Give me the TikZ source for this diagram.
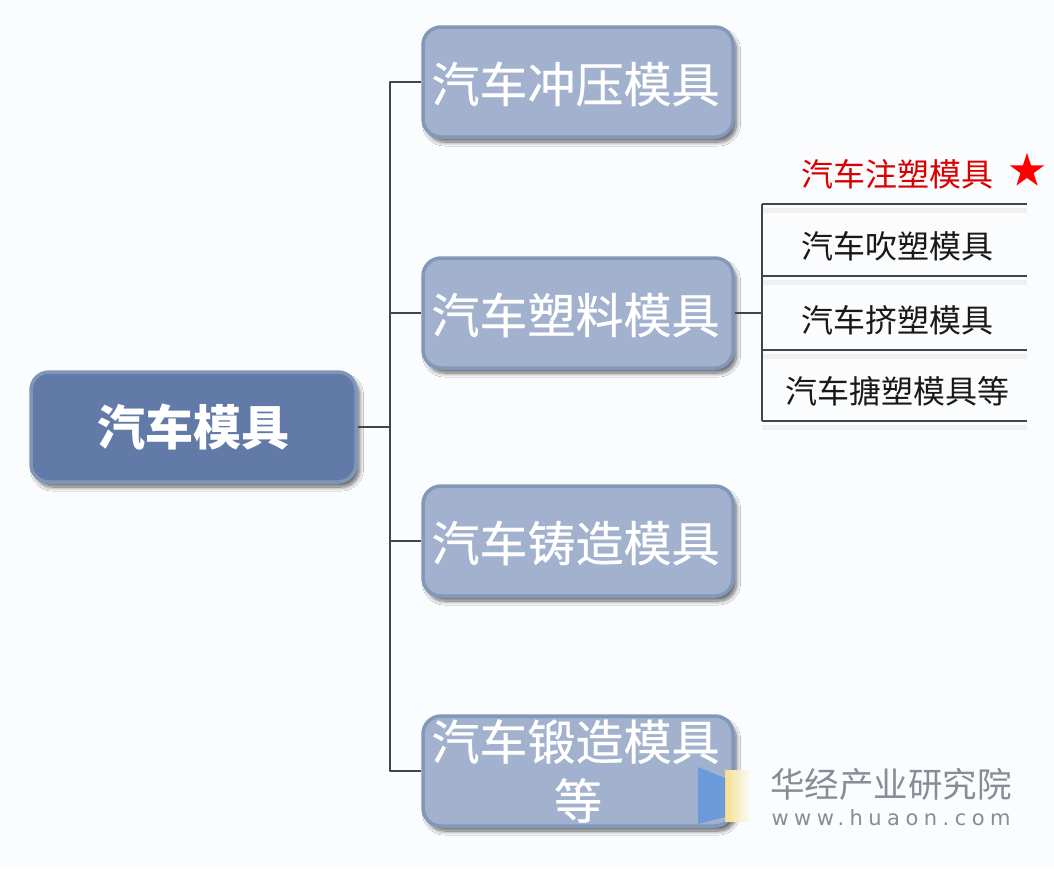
\documentclass[tikz,border=0pt]{standalone}
\usepackage{fontspec}
\setmainfont{Noto Sans CJK SC}
\newfontfamily\wmfont[LetterSpace=26]{DejaVu Sans}
\usetikzlibrary{positioning,shapes.geometric,shadows.blur}
\definecolor{pagebg}{HTML}{FBFCFE}
\definecolor{rootfill}{HTML}{617AA8}
\definecolor{rootedge}{HTML}{8096B7}
\definecolor{boxfill}{HTML}{A1B1CE}
\definecolor{boxedge}{HTML}{8298B8}
\definecolor{wirecol}{HTML}{3E4650}
\definecolor{wmgrey}{HTML}{8A8B96}
\definecolor{wmblue}{HTML}{6C9BDC}
\definecolor{wmyellow}{HTML}{F4E08F}
\tikzset{
	rootbox/.style={draw=rootedge,line width=3.5pt,fill=rootfill,rounded corners=18pt,
		minimum width=325pt,minimum height=110pt,text=white,font=\fontsize{48pt}{56pt}\selectfont\bfseries,
		blur shadow={shadow xshift=3.5pt,shadow yshift=-5pt,shadow blur radius=4pt,shadow blur steps=12,shadow opacity=60}},
	kindbox/.style={draw=boxedge,line width=3.5pt,fill=boxfill,rounded corners=18pt,
		minimum width=310pt,minimum height=110pt,text=white,align=center,
		font=\fontsize{48pt}{59pt}\selectfont\addfontfeature{FakeBold=0.5},
		blur shadow={shadow xshift=3.5pt,shadow yshift=-5pt,shadow blur radius=4pt,shadow blur steps=12,shadow opacity=60}},
	wire/.style={draw=wirecol,line width=2.4pt},
	leafwire/.style={wire,preaction={draw=black!6,line width=5pt,transform canvas={yshift=-6pt}}},
	leaf/.style={above,inner sep=0pt,xshift=3pt,yshift=14pt,text=black!90,font=\fontsize{32pt}{36pt}\selectfont},
}
\begin{document}
\begin{tikzpicture}[x=1pt,y=-1pt]
	\useasboundingbox[fill=pagebg] (0,0) rectangle (1054,868);

	\node[rootbox](root) at (193.5,427){汽车模具};
	\node[kindbox,text depth=-4pt](stamp) at (578,82){\hspace*{-5pt}汽车冲压模具};
	\node[kindbox,text depth=-4pt](plastic) at (578,313){\hspace*{-5pt}汽车塑料模具};
	\node[kindbox,text depth=-4pt](casting) at (578,541){\hspace*{-5pt}汽车铸造模具};
	\node[kindbox](forging) at (578,771){\hspace*{-5pt}汽车锻造模具\\等};

	% main spine
	\coordinate (spine) at (390,427);
	\draw[wire](root.east) -- (spine);
	\draw[wire,line join=round](stamp.west) -- (stamp.west-|spine) -- (forging.west-|spine) -- (forging.west);
	\draw[wire](plastic.west) -- (plastic.west-|spine);
	\draw[wire](casting.west) -- (casting.west-|spine);

	% plastic moulds
	\coordinate (fork) at (762,313);
	\coordinate (leaf-a) at (1027,204);
	\coordinate (leaf-b) at (1027,276);
	\coordinate (leaf-c) at (1027,350);
	\coordinate (leaf-d) at (1027,421);
	\draw[wire](plastic.east) -- (fork);
	\draw[leafwire](leaf-a-|fork) -- node[leaf,text=red!85!black](inject){汽车注塑模具} (leaf-a);
	\draw[leafwire](leaf-b-|fork) -- node[leaf](blow){汽车吹塑模具} (leaf-b);
	\draw[leafwire](leaf-c-|fork) -- node[leaf](extrude){汽车挤塑模具} (leaf-c);
	\draw[leafwire](leaf-d-|fork) -- node[leaf](roto){汽车搪塑模具等} (leaf-d);
	\draw[wire,line join=round](leaf-a-|fork) -- (leaf-d-|fork);
	\node[star,star points=5,star point ratio=2.6,fill=red,inner sep=0pt,minimum size=36pt](mark) at (1027,171){};

	% watermark
	\foreach \i in {0,...,12}
		\fill[wmyellow!\the\numexpr100-8*\i\relax!pagebg] (725+2*\i,770) rectangle (727.5+2*\i,822);
	\fill[wmblue] (698,767) -- (725,778) -- (725,817) -- (698,824) -- cycle;
	\node[text=wmgrey,inner sep=0pt,font=\fontsize{34.5pt}{38pt}\selectfont](brand) at (891,784){华经产业研究院};
	\node[text=wmgrey,inner sep=0pt,font=\wmfont\fontsize{21pt}{26pt}\selectfont,below=9pt of brand](site){www.huaon.com};
\end{tikzpicture}
\end{document}
